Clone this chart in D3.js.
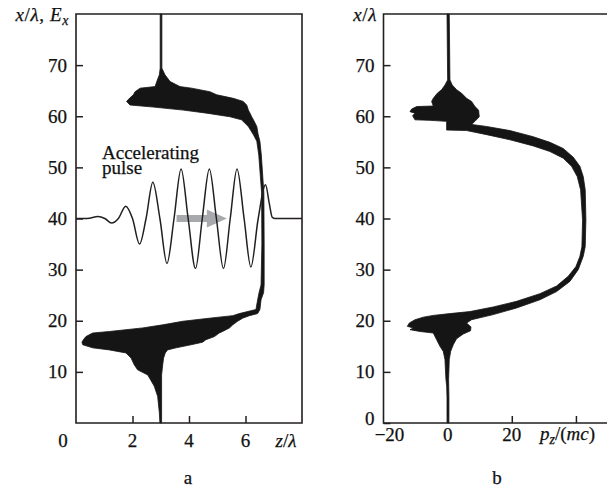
<!DOCTYPE html>
<html>
<head>
<meta charset="utf-8">
<script src="https://cdn.jsdelivr.net/npm/d3@7"></script>
<style>
    body { margin: 0; background: #fff; }
    svg text { font-family: "Liberation Serif", "Times New Roman", serif; fill: #111; stroke: #111; stroke-width: 0.25; }
    .axis path.domain { display: none; }
    .axis line { stroke: #231f20; stroke-width: 1.5; }
</style>
</head>
<body>
<div id="chart"></div>
<script>

// ---- values ----

// vertical axis (x/lambda), shared by both panels
const xTicksA = [10, 20, 30, 40, 50, 60, 70];
const xTicksB = [0, 10, 20, 30, 40, 50, 60, 70];

// horizontal axes
const zTicks = [2, 4, 6];
const pzTicks = [0, 20, 40];
const pzTickLabels = [-20, 0, 20];

// accelerating pulse E_x (drawn around x/lambda = 40)
const pulseZ  = [0, 0.4, 0.78, 1.02, 1.26, 1.5, 1.76, 2.0, 2.25, 2.48, 2.72, 2.97, 3.22, 3.47, 3.72, 3.97,
                 4.23, 4.47, 4.72, 4.97, 5.22, 5.46, 5.70, 5.95, 6.19, 6.45, 6.71, 6.84, 6.95, 7.05, 8];
const pulseEx = [40, 40, 40.4, 40, 39.1, 40, 42.4, 40, 35, 40, 47.1, 40, 31.2, 40, 49.7, 40,
                 30.2, 40, 49.7, 40, 30.2, 40, 49.7, 40, 30.5, 40, 46.6, 43, 40.2, 40, 40];

// arrow showing the pulse direction (z/lambda)
const arrowZ = [3.56, 5.34];

// electron bunch outline, panel a: [z/lambda, x/lambda]
const bunchA = [
    [2.98, 80], [2.98, 69.4], [2.95, 68.1], [2.86, 66.8], [2.80, 65.8], [2.27, 65.5], [2.09, 64.8],
    [2.03, 64.2], [1.89, 63.5], [1.79, 62.9], [1.91, 62.2], [2.74, 61.8], [3.80, 61.2], [4.63, 60.6],
    [5.45, 59.9], [5.86, 59.3], [6.10, 58.0], [6.28, 56.4], [6.40, 55.1], [6.47, 52.4], [6.57, 45],
    [6.58, 35], [6.55, 27], [6.48, 25.5], [6.43, 24.1], [6.37, 22.2], [5.78, 21.4], [5.55, 21.0],
    [4.72, 20.5], [3.78, 19.9], [3.07, 19.2], [2.36, 18.6], [1.18, 17.9], [0.59, 17.6], [0.35, 16.9],
    [0.26, 16.3], [0.21, 15.8], [0.24, 15.3], [0.59, 14.7], [1.18, 14.3], [1.77, 13.7], [1.95, 12.7],
    [2.06, 11.4], [2.18, 10.4], [2.54, 9.4], [2.77, 7.2], [2.89, 5.2], [2.95, 2.0], [2.97, 0],
    [3.03, 0], [3.03, 2.0], [3.03, 5.2], [3.03, 7.2], [3.03, 9.4], [3.05, 10.4], [3.07, 11.4],
    [3.10, 12.7], [3.16, 13.7], [3.24, 14.3], [3.54, 14.7], [4.07, 15.3], [4.48, 15.8], [4.60, 16.3],
    [4.90, 16.9], [5.07, 17.6], [5.19, 17.9], [5.43, 18.6], [5.55, 19.2], [5.72, 19.9], [5.90, 20.5],
    [6.14, 21.0], [6.43, 21.4], [6.51, 22.2], [6.55, 24.1], [6.64, 25.5], [6.66, 27], [6.66, 35],
    [6.65, 45], [6.56, 52.4], [6.51, 55.1], [6.45, 56.4], [6.40, 58.0], [6.28, 59.3], [6.22, 59.9],
    [6.16, 60.6], [6.10, 61.2], [6.07, 61.8], [6.04, 62.2], [5.92, 62.9], [5.57, 63.5], [4.98, 64.2],
    [4.74, 64.8], [4.09, 65.5], [3.68, 65.8], [3.33, 66.8], [3.15, 68.1], [3.04, 69.4], [3.04, 80]
];

// electron bunch outline, panel b: [p_z/(mc), x/lambda]
const bunchB = [
    [-0.2, 80], [0.0, 67.1], [-0.84, 66.1], [-1.88, 65.2], [-3.23, 64.5], [-4.48, 63.5], [-4.99, 62.9],
    [-4.48, 62.0], [-9.67, 61.9], [-11.23, 61.4], [-11.75, 60.9], [-10.19, 60.6], [-10.92, 60.1],
    [-10.19, 59.3], [-5.52, 59.2], [-0.32, 59.0], [-0.32, 57.3], [5.91, 57.2], [12.15, 56.4],
    [19.42, 55.4], [26.68, 54.2], [31.89, 53.1], [36.04, 51.8], [38.64, 50.2], [40.41, 48.2],
    [41.45, 45.6], [42.07, 39.7], [41.86, 34.5], [41.24, 32.6], [40.0, 30.6], [37.6, 28.7],
    [33.97, 26.8], [28.77, 25.3], [21.5, 23.8], [14.22, 22.7], [6.95, 21.8], [0.72, 21.4],
    [-4.48, 21.05], [-7.6, 20.7], [-10.19, 20.2], [-11.96, 19.55], [-12.58, 18.9], [-10.71, 18.6],
    [-11.75, 18.25], [-8.63, 17.9], [-4.48, 17.6], [-3.44, 16.3], [-2.40, 15.0], [-1.36, 14.0],
    [-0.84, 12.4], [-0.53, 8.5], [-0.3, 7.2], [-0.2, 5], [-0.2, 0],
    [0.4, 0], [0.4, 5], [0.3, 8.5], [0.51, 12.4], [0.93, 14.0], [1.76, 15.3], [2.79, 16.5],
    [4.87, 17.4], [7.16, 18.05], [7.27, 18.8], [5.91, 19.55], [7.47, 20.2], [14.22, 21.2],
    [21.5, 22.5], [28.77, 24.1], [33.97, 25.7], [38.12, 27.7], [40.72, 30.0], [42.28, 32.6],
    [42.90, 34.5], [43.11, 39.7], [42.90, 45.6], [42.28, 48.2], [41.24, 50.2], [39.16, 52.0],
    [36.04, 53.7], [31.89, 54.9], [26.68, 56.0], [19.42, 57.2], [12.15, 58.0], [7.47, 58.4],
    [8.51, 59.0], [9.86, 59.9], [9.65, 61.2], [8.51, 61.9], [7.47, 62.9], [5.91, 63.5], [4.35, 64.5],
    [2.79, 65.2], [1.44, 66.1], [0.72, 67.1], [0.5, 80]
];

const fontSize = 19;


/* * * * * * * * * * * * * *
*        PhasePanel        *
* * * * * * * * * * * * * */

class PhasePanel {

    constructor(svg, opts) {
        this.svg = svg;
        this.opts = opts;
        this.initVis();
    }

    initVis() {
        let vis = this;
        let o = vis.opts;

        vis.x = d3.scaleLinear().domain(o.hDomain).range([o.left, o.right]);
        vis.y = d3.scaleLinear().domain([0, 80]).range([o.bottom, o.top]);

        vis.g = vis.svg.append("g").attr("class", "panel");

        // electron bunch as a filled outline
        vis.bunchLine = d3.line()
            .x(d => vis.x(d[0]))
            .y(d => vis.y(d[1]));

        vis.updateVis();
    }

    updateVis() {
        let vis = this;
        let o = vis.opts;

        vis.g.append("path")
            .datum(o.bunch)
            .attr("d", d => vis.bunchLine(d) + "Z")
            .attr("fill", "#151515")
            .attr("stroke", "#151515")
            .attr("stroke-width", 0.8)
            .attr("stroke-linejoin", "round");

        // frame
        vis.g.append("path")
            .attr("d", o.closed
                ? `M${o.left},${o.top}H${o.right}V${o.bottom}H${o.left}Z`
                : `M${o.right},${o.top}H${o.left}V${o.bottom}H${o.right}`)
            .attr("fill", "none")
            .attr("stroke", "#231f20")
            .attr("stroke-width", 1.6);

        // y axis, ticks pointing inward
        let yAxis = vis.g.append("g")
            .attr("class", "axis")
            .attr("transform", `translate(${o.left},0)`)
            .call(d3.axisLeft(vis.y).tickValues(o.yTicks).tickSize(-7).tickPadding(9));

        yAxis.selectAll("text")
            .attr("font-size", fontSize)
            .attr("dy", d => d === 0 ? "0.1em" : "0.32em");

        // x axis, ticks pointing inward
        vis.g.append("g")
            .attr("class", "axis")
            .attr("transform", `translate(0,${o.bottom})`)
            .call(d3.axisBottom(vis.x).tickValues(o.xTicks).tickSize(-7).tickFormat(""));

        vis.g.selectAll(".xlab")
            .data(o.xLabels)
            .enter()
            .append("text")
            .attr("class", "xlab")
            .attr("x", d => vis.x(d) + (d === o.hDomain[0] ? 6 : 0))
            .attr("y", o.xLabelY)
            .attr("text-anchor", "middle")
            .attr("dominant-baseline", "central")
            .attr("font-size", fontSize)
            .text(d => d < 0 ? "\u2212" + Math.abs(d) : d);
    }
}

let width = 607, height = 492;

let svg = d3.select("#chart").append("svg")
    .attr("width", width)
    .attr("height", height);

// panel a: z/lambda against x/lambda
let panelA = new PhasePanel(svg, {
    left: 76, right: 302, top: 14, bottom: 423,
    hDomain: [0, 8], closed: true,
    yTicks: xTicksA, xTicks: zTicks, xLabels: zTicks, xLabelY: 440,
    bunch: bunchA
});

// panel b: p_z/(mc) against x/lambda (right edge runs off the page)
let panelB = new PhasePanel(svg, {
    left: 383.5, right: 608, top: 14, bottom: 423,
    hDomain: [-20, 50], closed: false,
    yTicks: xTicksB, xTicks: pzTicks, xLabels: pzTickLabels, xLabelY: 434,
    bunch: bunchB
});

// pulse arrow (under the field curve)
let ax = panelA.x, ay = panelA.y;
let ay0 = ay(40);
let shaftEnd = ax(arrowZ[1]) - 20;
svg.append("path")
    .attr("d", `M${ax(arrowZ[0])},${ay0 - 3.5}H${shaftEnd}V${ay0 - 9}L${ax(arrowZ[1])},${ay0}` +
               `L${shaftEnd},${ay0 + 9}V${ay0 + 3.5}H${ax(arrowZ[0])}Z`)
    .attr("fill", "#a7a9ac");

// accelerating pulse
let pulse = pulseZ.map((z, i) => [z, pulseEx[i]]);
let pulseLine = d3.line()
    .x(d => ax(d[0]))
    .y(d => ay(d[1]))
    .curve(d3.curveMonotoneX);

svg.append("path")
    .datum(pulse)
    .attr("d", pulseLine)
    .attr("fill", "none")
    .attr("stroke", "#231f20")
    .attr("stroke-width", 1.5);

// annotation, two tight lines as in the figure
let note = svg.append("text").attr("font-size", fontSize);
note.append("tspan").attr("x", 102).attr("y", 159).text("Accelerating");
note.append("tspan").attr("x", 102).attr("y", 174).text("pulse");

// origin label of panel a
svg.append("text")
    .attr("x", 63).attr("y", 440)
    .attr("text-anchor", "middle")
    .attr("dominant-baseline", "central")
    .attr("font-size", fontSize)
    .text("0");

// axis titles
let titleA = svg.append("text").attr("x", 69).attr("y", 21)
    .attr("text-anchor", "end").attr("font-size", fontSize).attr("letter-spacing", 0.6);
titleA.append("tspan").attr("font-style", "italic").text("x");
titleA.append("tspan").text("/");
titleA.append("tspan").attr("font-style", "italic").text("\u03bb");
titleA.append("tspan").text(", ");
titleA.append("tspan").attr("font-style", "italic").text("E");
titleA.append("tspan").attr("font-style", "italic").attr("font-size", 14).attr("dy", 4).text("x");

let titleB = svg.append("text").attr("x", 377).attr("y", 21)
    .attr("text-anchor", "end").attr("font-size", fontSize).attr("letter-spacing", 0.6);
titleB.append("tspan").attr("font-style", "italic").text("x");
titleB.append("tspan").text("/");
titleB.append("tspan").attr("font-style", "italic").text("\u03bb");

let zTitle = svg.append("text").attr("x", 286).attr("y", 440)
    .attr("text-anchor", "middle").attr("dominant-baseline", "central").attr("font-size", fontSize);
zTitle.append("tspan").attr("font-style", "italic").text("z");
zTitle.append("tspan").text("/");
zTitle.append("tspan").attr("font-style", "italic").text("\u03bb");

let pTitle = svg.append("text").attr("x", 540).attr("y", 440).attr("font-size", fontSize);
pTitle.append("tspan").attr("font-style", "italic").text("p");
pTitle.append("tspan").attr("font-style", "italic").attr("font-size", 14).attr("dy", 4).text("z");
pTitle.append("tspan").attr("dy", -4).text("/(");
pTitle.append("tspan").attr("font-style", "italic").text("mc");
pTitle.append("tspan").text(")");

// panel letters
svg.append("text").attr("x", 188).attr("y", 484).attr("text-anchor", "middle").attr("font-size", fontSize).text("a");
svg.append("text").attr("x", 497).attr("y", 484).attr("text-anchor", "middle").attr("font-size", fontSize).text("b");

</script>
</body>
</html>
